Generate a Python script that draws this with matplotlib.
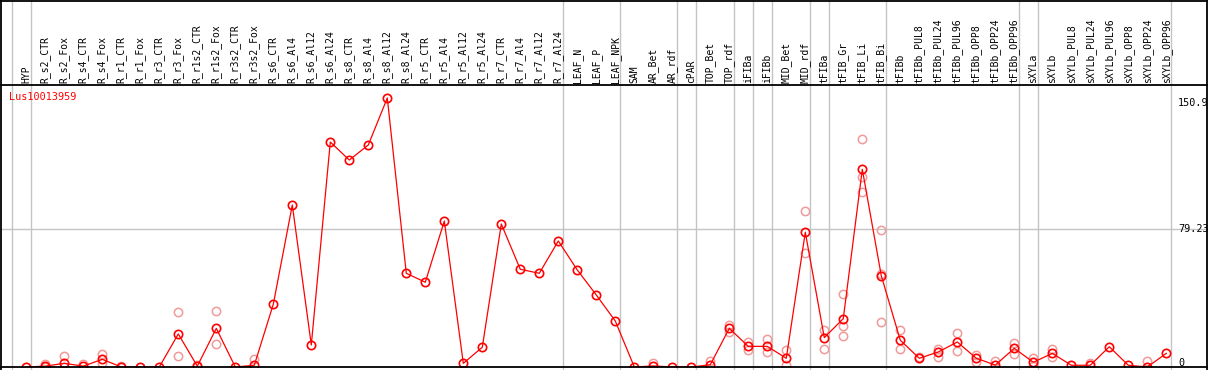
import matplotlib
matplotlib.use("Agg")
import matplotlib.pyplot as plt
import matplotlib.transforms as mtransforms

gene = "Lus10013959"

labels = ["HYP",
          "R_s2_CTR", "R_s2_Fox", "R_s4_CTR", "R_s4_Fox", "R_r1_CTR", "R_r1_Fox",
          "R_r3_CTR", "R_r3_Fox", "R_r1s2_CTR", "R_r1s2_Fox", "R_r3s2_CTR", "R_r3s2_Fox",
          "R_s6_CTR", "R_s6_Al4", "R_s6_Al12", "R_s6_Al24",
          "R_s8_CTR", "R_s8_Al4", "R_s8_Al12", "R_s8_Al24",
          "R_r5_CTR", "R_r5_Al4", "R_r5_Al12", "R_r5_Al24",
          "R_r7_CTR", "R_r7_Al4", "R_r7_Al12", "R_r7_Al24",
          "LEAF_N", "LEAF_P", "LEAF_NPK", "SAM", "AR_Bet", "AR_rdf", "cPAR",
          "TOP_Bet", "TOP_rdf", "iFIBa", "iFIBb", "MID_Bet", "MID_rdf",
          "tFIBa", "tFIB_Gr", "tFIB_Li", "tFIB_Bi", "tFIBb",
          "tFIBb_PUL8", "tFIBb_PUL24", "tFIBb_PUL96",
          "tFIBb_OPP8", "tFIBb_OPP24", "tFIBb_OPP96",
          "sXYLa", "sXYLb", "sXYLb_PUL8", "sXYLb_PUL24", "sXYLb_PUL96",
          "sXYLb_OPP8", "sXYLb_OPP24", "sXYLb_OPP96"]

means = [0, 0.5, 2.1, 0.5, 4.4, 0, 0, 0, 18.9, 0.5, 22.1, 0, 1.0,
         35.9, 92.7, 12.6, 128.7, 118.4, 127.0, 153.9, 53.6,
         48.5, 83.5, 2.1, 11.3, 81.8, 55.9, 53.6, 72.1,
         55.5, 41.2, 26.3, 0, 0.6, 0, 0, 1.3, 22.1, 11.8, 11.8, 5.0, 77.1,
         16.8, 27.7, 113.1, 52.2, 15.3, 5.0, 8.6, 14.3, 5.0, 1.1, 10.7,
         2.7, 7.8, 1.0, 1.0, 11.6, 1.0, 0, 7.8]

# replicate points: category index and value
rep_idx = [1, 1, 2, 2, 3, 4, 4, 5, 8, 8, 9, 10, 10, 12,
           33, 36, 37, 37, 38, 38, 39, 39, 40, 40, 41, 41,
           42, 42, 43, 43, 43, 44, 44, 44, 45, 45, 45, 46, 46,
           47, 48, 48, 49, 49, 50, 50, 51, 52, 52, 53, 53, 54, 54, 56, 59]
rep_val = [1.5, 0, 6.3, 0, 1.5, 7.6, 2.1, 0.5, 31.3, 6.1, 1.3, 32.0, 13.0, 4.4,
           2.1, 3.4, 24.0, 20.2, 14.5, 9.7, 15.8, 8.4, 9.7, 1.0, 89.2, 65.0,
           21.2, 10.3, 41.6, 23.3, 17.6, 130.3, 108.9, 100.3, 78.4, 53.2, 25.6, 21.0, 10.3,
           5.5, 10.3, 5.9, 19.5, 9.2, 7.0, 2.7, 3.3, 13.9, 7.3, 5.0, 0.5, 10.5, 5.5, 2.1, 3.6]

# group separators sit just after these category indices
separators = [-1, 0, 28, 31, 34, 35, 37, 38, 39, 41, 42, 45, 52, 53, 60]
ref_lines = [79.23]
tick_vals = [150.9, 79.23, 0]
tick_text = ["150.9", "79.23", "0"]

W, H = 1209, 370
fig = plt.figure(figsize=(W / 100, H / 100), dpi=100)
top_px, bot_px, left_px, right_px = 85, 367, 1, 1207
ax = fig.add_axes([left_px / W, (H - bot_px) / H,
                   (right_px - left_px) / W, (bot_px - top_px) / H])
step = 19.0
x0 = 26.3
ax.set_xlim((left_px - x0) / step, (right_px - x0) / step)
ax.set_ylim(0, (bot_px - top_px) / 1.748)
ax.axis("off")

mono = "DejaVu Sans Mono"
ah = bot_px - top_px
ytop = (bot_px - 0) / ah
ybot = (bot_px - H) / ah
grey = "#c4c4c4"

for s in separators:
    ax.axvline(s + 0.25, ymin=ybot, ymax=ytop, color=grey, lw=1.0, clip_on=False, zorder=1)
for r in ref_lines:
    ax.axhline(r, color=grey, lw=1.0, zorder=1)

# borders
for yy in [ytop - 0.002, 1.0, 0.0]:
    ax.plot([0, 1], [yy, yy], transform=ax.transAxes, color="black", lw=1.3, clip_on=False, zorder=5)
ax.plot([0, 0], [ybot, ytop], transform=ax.transAxes, color="black", lw=1.3, clip_on=False, zorder=5)
ax.plot([1, 1], [ybot, ytop], transform=ax.transAxes, color="black", lw=1.3, clip_on=False, zorder=5)

trans = mtransforms.blended_transform_factory(ax.transData, ax.transAxes)
for i, lab in enumerate(labels):
    ax.text(i, (bot_px - 83) / ah, lab, rotation=90, ha="center", va="bottom",
            fontsize=7, family=mono, transform=trans, clip_on=False)

ax.text(8 / (right_px - left_px), (bot_px - 97) / ah, gene, color="red",
        fontsize=7.3, family=mono, ha="left", va="center", transform=ax.transAxes)

tr2 = mtransforms.blended_transform_factory(ax.transAxes, ax.transData)
for v, t in zip(tick_vals, tick_text):
    yv = v if v > 0 else 2.3
    ax.text((1178 - left_px) / (right_px - left_px), yv, t, ha="left", va="center",
            fontsize=7.3, family=mono, transform=tr2)

ax.plot(rep_idx, rep_val, "o", ms=6, mfc="none", mec="#f09a9a", mew=1.1, zorder=3)
ax.plot(range(len(means)), means, "-", color="red", lw=0.9, zorder=4)
ax.plot(range(len(means)), means, "o", ms=6, mfc="none", mec="red", mew=1.2, zorder=4)

fig.savefig("out.png", dpi=100)
